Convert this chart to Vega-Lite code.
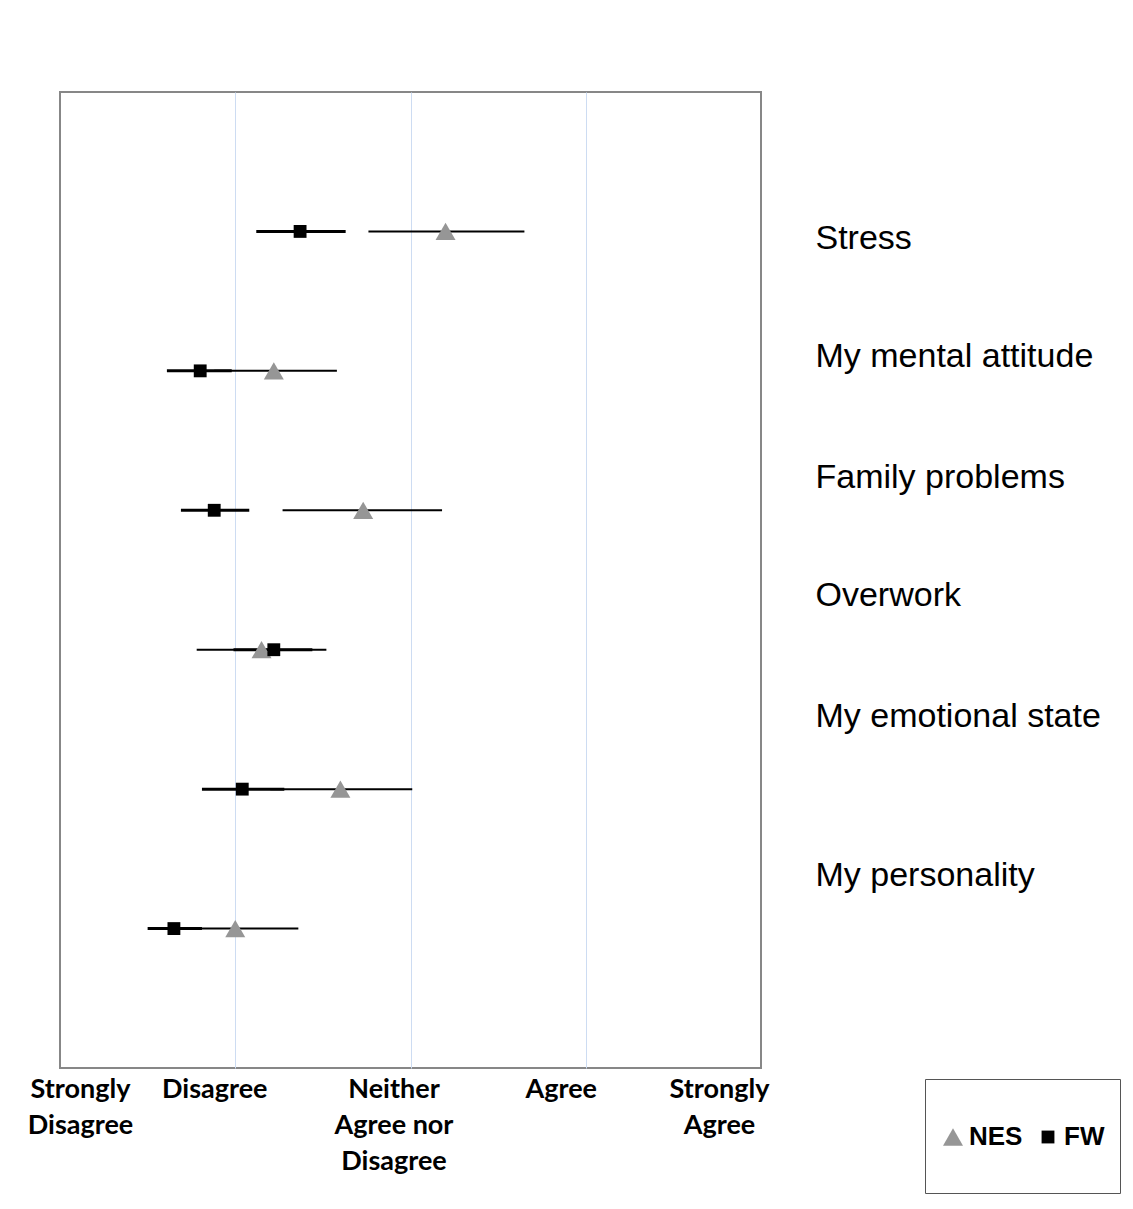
{
  "$schema": "https://vega.github.io/schema/vega-lite/v6.json",
  "autosize": "none",
  "width": 701,
  "height": 976,
  "padding": {"left": 60, "top": 92, "right": 372, "bottom": 141},
  "background": "white",
  "data": {
    "values": [
      {"item": "Stress", "series": "NES", "mean": 3.20, "lo": 2.76, "hi": 3.65},
      {"item": "My mental attitude", "series": "NES", "mean": 2.22, "lo": 1.88, "hi": 2.58},
      {"item": "Family problems", "series": "NES", "mean": 2.73, "lo": 2.27, "hi": 3.18},
      {"item": "Overwork", "series": "NES", "mean": 2.15, "lo": 1.78, "hi": 2.52},
      {"item": "My emotional state", "series": "NES", "mean": 2.60, "lo": 2.20, "hi": 3.01},
      {"item": "My personality", "series": "NES", "mean": 2.00, "lo": 1.64, "hi": 2.36},
      {"item": "Stress", "series": "FW", "mean": 2.37, "lo": 2.12, "hi": 2.63},
      {"item": "My mental attitude", "series": "FW", "mean": 1.80, "lo": 1.61, "hi": 1.98},
      {"item": "Family problems", "series": "FW", "mean": 1.88, "lo": 1.69, "hi": 2.08},
      {"item": "Overwork", "series": "FW", "mean": 2.22, "lo": 1.99, "hi": 2.44},
      {"item": "My emotional state", "series": "FW", "mean": 2.04, "lo": 1.81, "hi": 2.28},
      {"item": "My personality", "series": "FW", "mean": 1.65, "lo": 1.50, "hi": 1.81}
    ]
  },
  "encoding": {
    "y": {
      "field": "item",
      "type": "nominal",
      "sort": ["Stress", "My mental attitude", "Family problems", "Overwork", "My emotional state", "My personality"],
      "scale": {"type": "point", "padding": 1},
      "axis": {
        "orient": "right",
        "title": null,
        "ticks": false,
        "domain": false,
        "grid": false,
        "labelAlign": "left",
        "labelBaseline": "middle",
        "labelPadding": 54,
        "labelFont": "Liberation Sans",
        "labelFontSize": 34,
        "labelColor": "#000000",
        "labelLimit": 400,
        "labelOffset": {"expr": "datum.value=='Stress'?7:datum.value=='My mental attitude'?-14:datum.value=='Family problems'?-33:datum.value=='Overwork'?-54:datum.value=='My emotional state'?-73:-53"}
      }
    }
  },
  "layer": [
    {
      "transform": [{"filter": "datum.series == 'NES'"}],
      "mark": {"type": "rule", "color": "#000000", "strokeWidth": 2},
      "encoding": {
        "x": {
          "field": "lo",
          "type": "quantitative",
          "scale": {"domain": [1, 5], "nice": false, "zero": false},
          "axis": {
            "values": [1, 2, 3, 4, 5],
            "title": null,
            "ticks": false,
            "domain": false,
            "grid": true,
            "gridColor": {"condition": {"test": "datum.value == 1 || datum.value == 5", "value": "transparent"}, "value": "#cddcf2"},
            "gridWidth": 1,
            "labelExpr": "datum.value == 1 ? ['Strongly', 'Disagree'] : datum.value == 2 ? ['Disagree'] : datum.value == 3 ? ['Neither', 'Agree nor', 'Disagree'] : datum.value == 4 ? ['Agree'] : ['Strongly', 'Agree']",
            "labelFont": "Lato",
            "labelFontWeight": "bold",
            "labelFontSize": 27,
            "labelLineHeight": 36,
            "labelColor": "#000000",
            "labelBaseline": "top",
            "labelPadding": 8,
            "labelFlush": false,
            "labelOverlap": false,
            "labelOffset": {"expr": "datum.value==1?20:datum.value==2?-21:datum.value==3?-17:datum.value==4?-25:-42"}
          }
        },
        "x2": {"field": "hi"}
      }
    },
    {
      "transform": [{"filter": "datum.series == 'FW'"}],
      "mark": {"type": "rule", "color": "#000000", "strokeWidth": 3},
      "encoding": {
        "x": {"field": "lo", "type": "quantitative"},
        "x2": {"field": "hi"}
      }
    },
    {
      "mark": {"type": "point", "filled": true, "opacity": 1},
      "encoding": {
        "x": {"field": "mean", "type": "quantitative"},
        "shape": {
          "field": "series",
          "type": "nominal",
          "scale": {"domain": ["NES", "FW"], "range": ["triangle-up", "square"]},
          "legend": {
            "orient": "none",
            "legendX": 865,
            "legendY": 987,
            "direction": "horizontal",
            "title": " ",
            "titleFontSize": 14,
            "titlePadding": 16,
            "labelFont": "Liberation Sans",
            "labelFontSize": 26,
            "labelFontWeight": "bold",
            "labelColor": "#000000",
            "labelOffset": 3,
            "labelExpr": "[datum.label, '']",
            "labelLineHeight": 34,
            "columnPadding": 12,
            "padding": 15,
            "strokeColor": "#555555",
            "fillColor": "white"
          }
        },
        "color": {
          "field": "series",
          "type": "nominal",
          "scale": {"domain": ["NES", "FW"], "range": ["#969696", "#000000"]}
        },
        "size": {
          "field": "series",
          "type": "nominal",
          "scale": {"domain": ["NES", "FW"], "range": [400, 165]}
        }
      }
    }
  ],
  "config": {
    "view": {"stroke": "#878787", "strokeWidth": 2}
  }
}
